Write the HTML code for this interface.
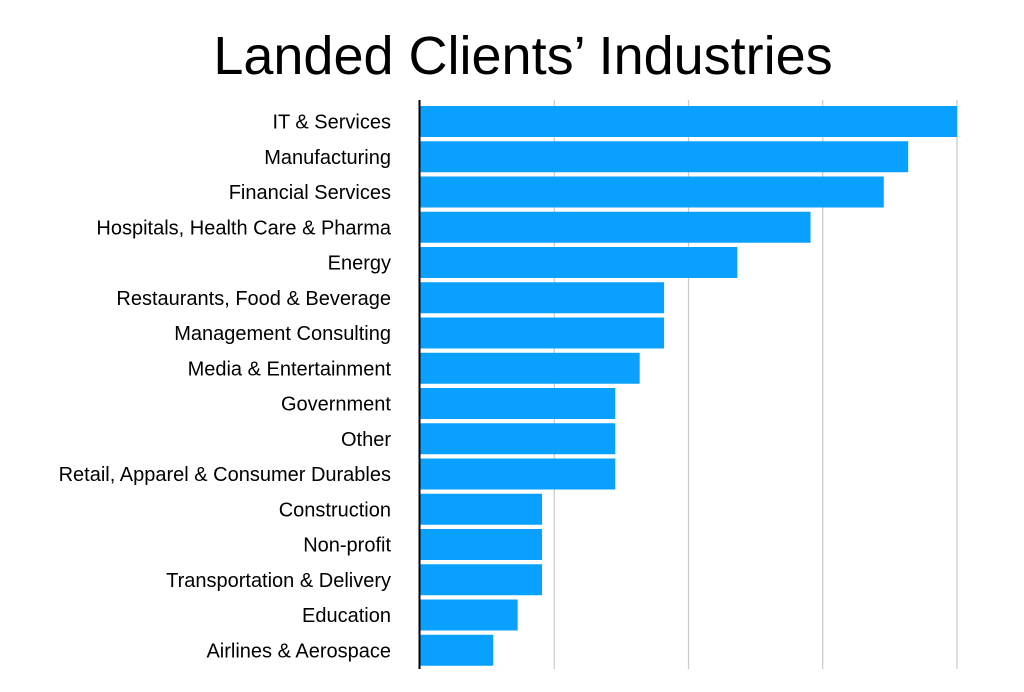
<!DOCTYPE html>
<html><head><meta charset="utf-8"><style>
body{margin:0;background:#fff;}
svg{display:block;font-family:"Liberation Sans",Arial,sans-serif;}
</style></head><body>
<svg id="chart" width="1024" height="692">
<text x="523" y="74" text-anchor="middle" font-size="54" fill="#000">Landed Clients’ Industries</text>
<g id="grid"></g><g id="bars"></g><g id="labels"></g>
<line x1="419.5" y1="100" x2="419.5" y2="669" stroke="#000" stroke-width="2"/>
</svg>
<script>
const categories=["IT & Services","Manufacturing","Financial Services","Hospitals, Health Care & Pharma","Energy","Restaurants, Food & Beverage","Management Consulting","Media & Entertainment","Government","Other","Retail, Apparel & Consumer Durables","Construction","Non-profit","Transportation & Delivery","Education","Airlines & Aerospace"];
const values=[22,20,19,16,13,10,10,9,8,8,8,5,5,5,4,3];
const gridTicks=[5.5,11,16.5,22];
const maxV=22;
const x0=420,x1=957,yTop=104,step=35.25,barH=31;
const xs=v=>x0+(x1-x0)*v/maxV;
const ys=i=>yTop+i*step;
const NS="http://www.w3.org/2000/svg";
const g=document.getElementById('grid'),b=document.getElementById('bars'),l=document.getElementById('labels');
gridTicks.forEach(t=>{
const ln=document.createElementNS(NS,'line');
ln.setAttribute('x1',xs(t));ln.setAttribute('x2',xs(t));ln.setAttribute('y1',100);ln.setAttribute('y2',669);
ln.setAttribute('stroke','#c8c8c8');ln.setAttribute('stroke-width','1.2');


g.appendChild(ln);});
categories.forEach((c,i)=>{
const r=document.createElementNS(NS,'rect');
r.setAttribute('x',x0);r.setAttribute('y',ys(i)+2);r.setAttribute('width',xs(values[i])-x0);r.setAttribute('height',barH);
r.setAttribute('fill','#0aa0ff');


b.appendChild(r);
const t=document.createElementNS(NS,'text');
t.setAttribute('x',391);t.setAttribute('y',ys(i)+2+barH/2+7);t.setAttribute('text-anchor','end');t.setAttribute('font-size','20');
t.textContent=c;


l.appendChild(t);});
</script>
</body></html>
